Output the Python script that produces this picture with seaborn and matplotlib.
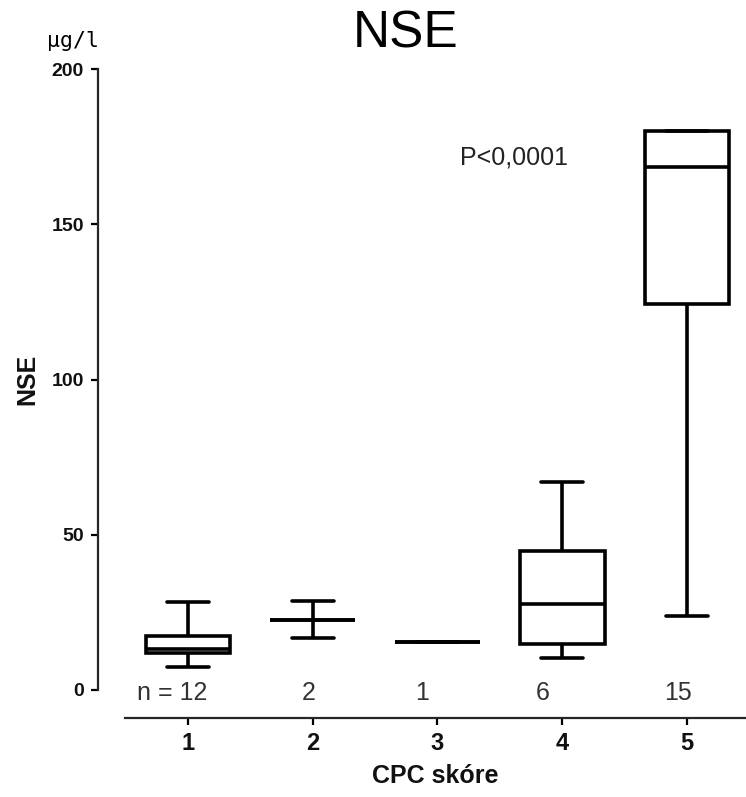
import matplotlib
matplotlib.use("Agg")
import matplotlib.pyplot as plt
import seaborn as sns
import pandas as pd

# ---- data (five-number summaries) ----
groups = ["1", "2", "3", "4", "5"]
n_labels = ["n = 12", "2", "1", "6", "15"]
minimum = [7.4, 16.7, 15.6, 10.2, 23.9]
q1 = [11.9, 22.5, 15.6, 14.8, 124.3]
median = [13.2, 22.5, 15.6, 27.7, 168.5]
q3 = [17.4, 22.5, 15.6, 44.8, 180.0]
maximum = [28.3, 28.7, 15.6, 67.1, 180.0]
yticks = [0, 50, 100, 150, 200]

rows = []
for g, a, b, c, d, e in zip(groups, minimum, q1, median, q3, maximum):
    vals = [c] if a == e else [a, b, c, d, e]
    for v in vals:
        rows.append({"CPC": g, "NSE": v})
df = pd.DataFrame(rows)

sns.set_style("ticks")
plt.rcParams["font.family"] = ["Liberation Sans", "DejaVu Sans"]

fig = plt.figure(figsize=(7.46, 7.97), dpi=100)
ax = fig.add_axes([125 / 746, 1 - 690 / 797, 621 / 746, 621 / 797])

sns.boxplot(data=df, x="CPC", y="NSE", order=groups, whis=(0, 100),
            width=0.68, color="white", linecolor="black", linewidth=2.6,
            fliersize=0, ax=ax)

ax.set_xlim(-0.505, 4.473)
ax.set_ylim(0, 200)
ax.set_yticks(yticks)
ax.set_yticklabels([str(t) for t in yticks])

for s in ["top", "right"]:
    ax.spines[s].set_visible(False)
ax.spines["left"].set_position(("outward", 19.5))
ax.spines["bottom"].set_position(("outward", 20.5))
ax.spines["left"].set_linewidth(1.6)
ax.spines["bottom"].set_linewidth(1.6)
ax.tick_params(axis="both", width=1.6, length=5, colors="black")
ax.tick_params(axis="y", labelsize=14, pad=5)
ax.tick_params(axis="x", labelsize=17, pad=5)
for lab in ax.get_xticklabels() + ax.get_yticklabels():
    lab.set_fontweight("bold")
    lab.set_color("#111111")

ax.set_xlabel("CPC skóre", fontsize=18, fontweight="bold", labelpad=6, color="#111111")
ax.set_ylabel("NSE", fontsize=18, fontweight="bold", labelpad=9, color="#111111")

# n labels (small horizontal nudges as in the original layout)
label_nudge = [-0.13, -0.03, -0.12, -0.16, -0.07]
for i, (lab, dx) in enumerate(zip(n_labels, label_nudge)):
    ax.text(i + dx, -1, lab, ha="center", va="center", fontsize=18, color="#333333")

ax.text(2.61, 171.5, "P<0,0001", ha="center", va="center", fontsize=18, color="#222222")

fig.text(406 / 746, 1 - 34 / 797, "NSE", ha="center", va="center", fontsize=37, color="black")
fig.text(47 / 746, 1 - 41 / 797, "µg/l", ha="left", va="center", fontsize=15.5,
         family=["DejaVu Sans Mono", "DejaVu Sans"], color="black")

fig.savefig("out.png", dpi=100)
